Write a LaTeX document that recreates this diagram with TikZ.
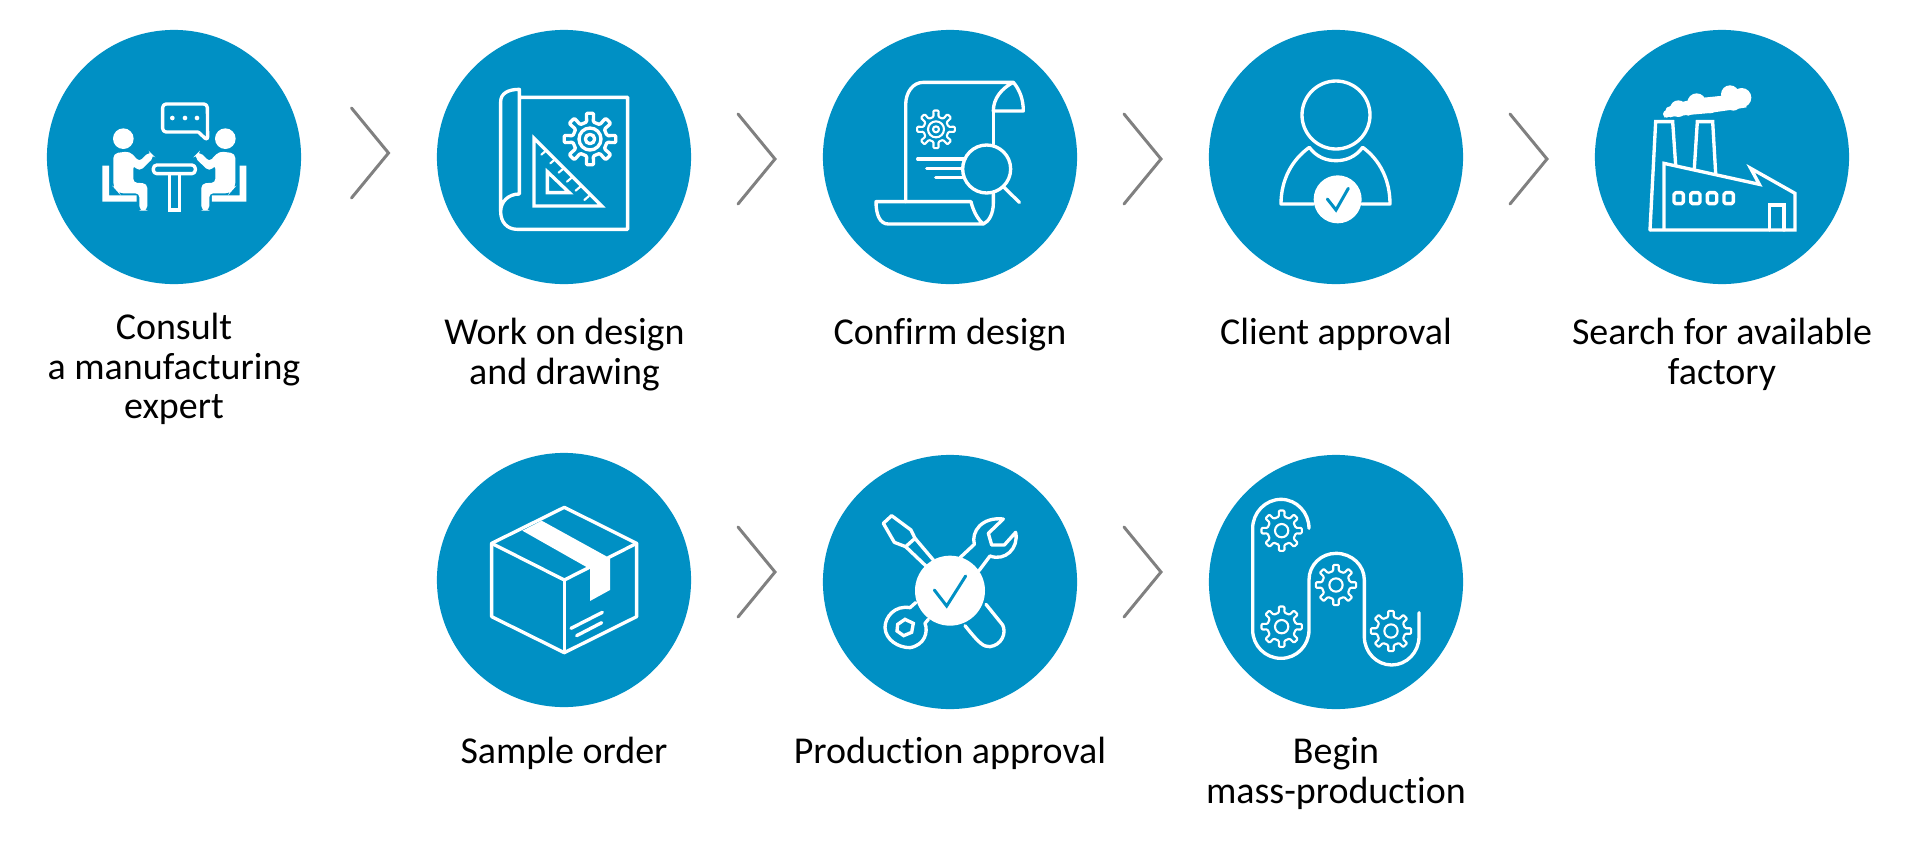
\documentclass[tikz,border=0pt]{standalone}
\usepackage{fontspec}
\setmainfont{Carlito}[Ligatures=NoCommon]
\usetikzlibrary{positioning}
\definecolor{stepblue}{HTML}{0090C4}
\definecolor{chevrongray}{HTML}{808080}
\tikzset{
  stepcircle/.style={circle,fill=stepblue,minimum size=2.54cm,inner sep=0pt},
  steplabel/.style={anchor=base,align=center,inner sep=0pt,text=black,font=\fontsize{10.8pt}{11.2pt}\selectfont},
  chevronline/.style={draw=chevrongray,line width=0.85pt,line cap=round,miter limit=10},
  iconline/.style={draw=white,line width=0.95pt,line cap=round,line join=round},
  thinline/.style={draw=white,line width=0.6pt,line join=round},
  checkline/.style={draw=stepblue,line width=0.85pt,line cap=round,line join=miter},
}
% Gear outline: centre, tip radius, root radius, style
\newcommand{\gearwheel}[4]{%
  \draw[#4,shift={(#1)},rounded corners=0.3pt] (-11:#3)
    \foreach \a in {0,45,...,315} {
      -- (\a-11:#3) -- (\a-8:#2) -- (\a+8:#2) -- (\a+11:#3)
    } -- cycle;
}
\begin{document}
\begin{tikzpicture}[x=0.01cm,y=-0.01cm]
  \useasboundingbox (0,0) rectangle (1920,845);

  % Define the seated person for easier readability
  \def\seatedperson{
    \fill[white] (100,146) circle (31);
    \filldraw[white,line width=0.4pt,rounded corners=1.2pt] (72,192) -- (118,186) -- (148,218) -- (178,187) -- (191,200)
      -- (148,242) -- (128,222) -- (128,280) -- (170,282) -- (170,360) -- (150,360) -- (150,308)
      -- (88,308) -- (72,290) -- cycle;
    \fill[white] (37,227) -- (57,227) -- (57,316) -- (140,316) -- (140,335) -- (37,335) -- cycle;
  }

  % Step circles
  \node[stepcircle] (consult) at (174,157) {};
  \node[stepcircle] (workdesign) at (564,157) {};
  \node[stepcircle] (confirm) at (950,157) {};
  \node[stepcircle] (client) at (1336,157) {};
  \node[stepcircle] (factory) at (1722,157) {};
  \node[stepcircle] (sample) at (564,580) {};
  \node[stepcircle] (prodapproval) at (950,582) {};
  \node[stepcircle] (massprod) at (1336,582) {};

  % Step labels
  \node[steplabel] (consultlabel) at (174,418.5) {Consult\\a manufacturing\\expert};
  \node[steplabel] (workdesignlabel) at (564.5,384) {Work on design\\and drawing};
  \node[steplabel] (confirmlabel) at (950,344) {Confirm design};
  \node[steplabel] (clientlabel) at (1336,344) {Client approval};
  \node[steplabel] (factorylabel) at (1722,384) {Search for available\\factory};
  \node[steplabel] (samplelabel) at (564,763) {Sample order};
  \node[steplabel] (prodapprovallabel) at (950,763) {Production approval};
  \node[steplabel] (massprodlabel) at (1336,803) {Begin\\mass-production};

  % Chevrons between the steps
  \foreach \x/\y in {351.5/153,738/159,1124/159,1510/159,738/572,1124/572} {
    \draw[chevronline] (\x,\y-45) -- (\x+37,\y) -- (\x,\y+45);
  }

  % Consult: two people at a table
  \begin{scope}[shift={(90,90)},scale=1/3]
    \draw[iconline,rounded corners=1pt] (325,126) -- (218,126) -- (218,42) -- (352,42) -- (353,152) -- (325,126);
    \foreach \x in {247,285,321} \fill[white] (\x,84) circle (7);
    \seatedperson
    \begin{scope}[shift={(506,0)},xscale=-1]
      \seatedperson
    \end{scope}
    \draw[iconline,rounded corners=1pt] (190,225) rectangle (316,251);
    \draw[iconline,line join=miter] (238,251) -- (238,360) -- (268,360) -- (268,251);
  \end{scope}

  % Work on design: sheet, set square and gear
  \begin{scope}[shift={(490,80)},scale=1/3]
    \draw[iconline] (88,52) -- (413,52) -- (413,448) -- (82,448) .. controls (50,448) and (32,425) .. (32,395)
      -- (32,65) .. controls (32,40) and (55,28) .. (88,28) -- (88,342) .. controls (55,342) and (32,365) .. (32,395);
    \draw[iconline,line join=miter] (132,175) -- (132,378) -- (335,378) -- cycle;
    \draw[iconline,line join=miter] (172,275) -- (172,338) -- (238,338) -- cycle;
    \foreach \x/\y in {168/212,195/238,220/266,245/293,271/320,297/348} {
      \draw[iconline,line width=0.6pt] (\x,\y) -- (\x-14,\y+12);
    }
    \gearwheel{300,177}{78}{52}{iconline}
    \draw[iconline] (300,177) circle (33);
    \draw[iconline] (300,177) circle (14);
  \end{scope}

  % Confirm design: scroll and magnifier
  \begin{scope}[shift={(865,75)},scale=1/3]
    \draw[iconline] (122,380) -- (122,90) .. controls (122,50) and (145,22) .. (175,22) -- (445,22)
      .. controls (465,45) and (475,75) .. (475,108) -- (385,108) .. controls (385,70) and (410,40) .. (445,22);
    \draw[iconline] (385,108) -- (385,208);
    \draw[iconline] (385,355) -- (385,385) .. controls (385,415) and (372,440) .. (355,447);
    \draw[iconline] (33,380) -- (318,380) .. controls (325,410) and (340,435) .. (355,447) -- (70,447)
      .. controls (45,447) and (33,420) .. (33,380) -- cycle;
    \draw[iconline] (365,282) circle (72);
    \draw[iconline] (415,335) -- (463,382);
    \draw[iconline] (158,252) -- (300,252);
    \draw[iconline] (185,280) -- (290,280);
    \draw[iconline] (212,307) -- (292,307);
    \gearwheel{213,163}{57}{38}{thinline}
    \draw[thinline] (213,163) circle (24);
    \draw[thinline] (213,163) circle (9);
  \end{scope}

  % Client approval: person with a check mark
  \begin{scope}[shift={(1270,70)},scale=1/3]
    \draw[iconline] (198,135) circle (102);
    \draw[iconline] (130,402) -- (33,402) .. controls (33,330) and (65,270) .. (118,232)
      .. controls (140,262) and (170,272) .. (198,272) .. controls (226,272) and (256,262) .. (278,232)
      .. controls (330,270) and (360,330) .. (360,402) -- (275,402);
    \fill[white] (203,388) circle (72);
    \draw[checkline] (172,387) -- (198,420) -- (235,355);
  \end{scope}

  % Search for a factory: building, chimneys and smoke
  \begin{scope}[shift={(1480,0)},scale=1/3]
    \draw[iconline,line join=miter] (510,690) -- (527,365) -- (578,365) -- (587,495);
    \draw[iconline,line join=miter] (643,505) -- (652,365) -- (698,365) -- (707,520);
    \draw[iconline,line join=miter] (552,690) -- (552,490) -- (838,553) -- (812,505) -- (945,580) -- (945,690) -- (510,690);
    \foreach \x in {582,632,682,732} {
      \draw[iconline,rounded corners=0.5pt] (\x,578) rectangle +(28,33);
    }
    \draw[iconline,line join=miter] (868,690) -- (868,615) -- (912,615) -- (912,690);
    \foreach \x/\y/\r in {560/342/11,572/335/17,595/326/25,625/330/17,650/308/28,690/318/22,720/310/22,750/283/27,785/293/29,760/310/22} {
      \fill[white] (\x,\y) circle (\r);
    }
    \fill[white] (552,352) -- (612,346) -- (680,340) -- (750,330) -- (800,322) -- (790,290) -- (750,285) -- (650,295) -- (590,310) -- cycle;
  \end{scope}

  % Sample order: taped box
  \begin{scope}[shift={(485,500)},scale=1/3]
    \draw[iconline] (238,22) -- (455,130) -- (455,350) -- (238,458) -- (20,350) -- (20,130) -- cycle;
    \draw[iconline] (20,130) -- (238,240) -- (455,130);
    \draw[iconline] (238,240) -- (238,458);
    \fill[white] (112,92) -- (170,62) -- (375,175) -- (375,270) -- (315,303) -- (315,207) -- cycle;
    \draw[iconline] (258,385) -- (352,337);
    \draw[iconline] (275,407) -- (350,368);
  \end{scope}

  % Production approval: crossed tools with a check mark
  \begin{scope}[shift={(875,505)},scale=1/3]
    \draw[iconline] (25,55) -- (50,32) -- (108,75) -- (120,100) -- (92,125) -- (58,112) -- cycle;
    \draw[iconline] (92,125) -- (155,185);
    \draw[iconline] (120,100) -- (175,165);
    \draw[iconline] (333,298) -- (383,360) .. controls (395,385) and (380,420) .. (345,425)
      .. controls (325,425) and (315,418) .. (270,362);
    \draw[iconline] (255,158) -- (298,118) .. controls (288,80) and (320,35) .. (385,42) -- (340,85) -- (350,120)
      -- (388,120) -- (422,82) .. controls (432,130) and (390,170) .. (345,153) -- (312,197);
    \draw[iconline] (122,293) -- (105,308) .. controls (60,300) and (30,335) .. (30,368)
      .. controls (32,405) and (70,428) .. (105,428) .. controls (150,420) and (160,380) .. (150,355) -- (160,343);
    \draw[iconline,line join=miter] (68,358) -- (90,343) -- (115,355) -- (110,382) -- (86,392) -- (66,378) -- cycle;
    \fill[white] (225,257) circle (105);
    \draw[checkline] (178,255) -- (215,303) -- (272,213);
  \end{scope}

  % Begin mass-production: belt over four gears
  \begin{scope}[shift={(1120,440)},scale=1/3]
    \draw[iconline] (567,265) .. controls (567,218) and (530,178) .. (483,178)
      .. controls (436,178) and (398,218) .. (398,265) -- (398,570)
      .. controls (398,617) and (436,655) .. (483,655) .. controls (530,655) and (567,617) .. (567,570)
      -- (567,420) .. controls (567,375) and (603,340) .. (648,340) .. controls (695,340) and (733,375) .. (733,420)
      -- (733,590) .. controls (733,637) and (770,675) .. (815,675) .. controls (860,675) and (897,637) .. (897,590)
      -- (897,518);
    \foreach \x/\y in {485/272,485/560,648/435,813/573} {
      \gearwheel{\x,\y}{61}{43}{thinline}
      \draw[thinline] (\x,\y) circle (20);
    }
  \end{scope}
\end{tikzpicture}
\end{document}
